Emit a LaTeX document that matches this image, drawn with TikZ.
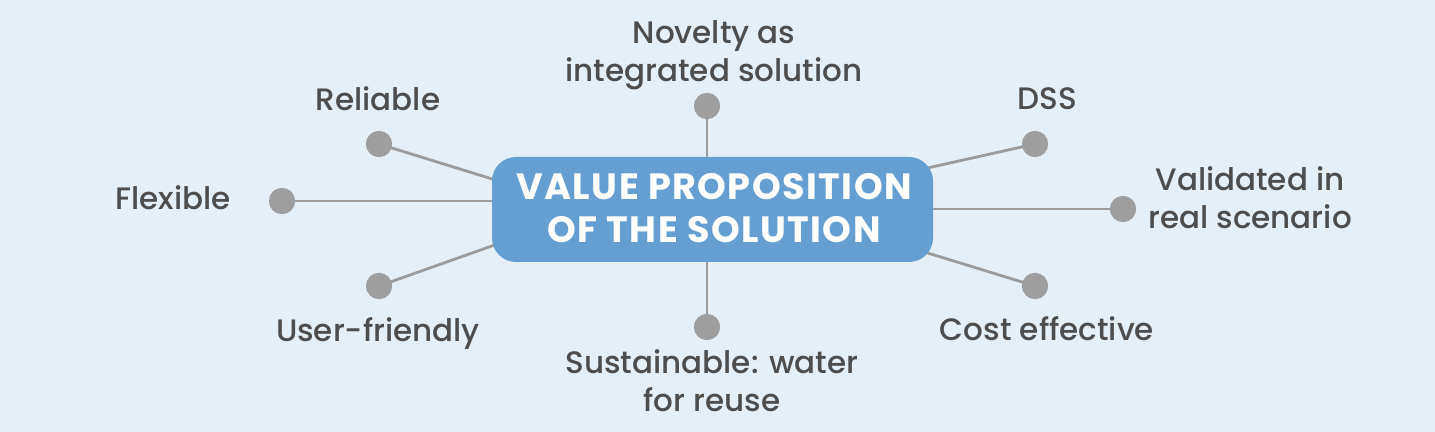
\documentclass[tikz,border=0pt]{standalone}
\usepackage{fontspec}
\setmainfont{Poppins}
\newfontfamily\medfont{Poppins Medium}
\newfontfamily\titlefont[LetterSpace=4]{Poppins Bold}
\definecolor{bgc}{HTML}{E5EFF8}
\definecolor{boxc}{HTML}{659FD2}
\definecolor{txtc}{HTML}{4D4D4D}
\definecolor{dotc}{HTML}{9E9E9E}
\definecolor{linec}{HTML}{9B9B9B}
\begin{document}
\begin{tikzpicture}[x=0.5pt,y=-0.5pt,
  lbl/.style={text=txtc,font=\medfont\fontsize{15.5pt}{19pt}\selectfont,inner sep=0pt,align=center,anchor=base},
  dotn/.style={circle,fill=dotc,inner sep=0pt,minimum size=13pt},
  conn/.style={draw=linec,line width=1.4pt},
  vpbox/.style={fill=boxc,rounded corners=12pt,minimum width=220.5pt,minimum height=52.5pt,inner sep=0pt}]
\fill[bgc] (0,0) rectangle (1435,432);
\useasboundingbox (0,0) rectangle (1435,432);
% dots
\node[dotn] (d1) at (379,144) {};
\node[dotn] (d2) at (282,201) {};
\node[dotn] (d3) at (379,286) {};
\node[dotn] (d4) at (707,106) {};
\node[dotn] (d5) at (1035,144) {};
\node[dotn] (d6) at (1123,209) {};
\node[dotn] (d7) at (1035,286) {};
\node[dotn] (d8) at (707,327) {};
% hidden end points under the box
\coordinate (e1) at (520,187.6);
\coordinate (e2) at (520,201);
\coordinate (e3) at (520,236);
\coordinate (e4) at (707,180);
\coordinate (e5) at (905,173);
\coordinate (e6) at (905,209);
\coordinate (e7) at (905,246);
\coordinate (e8) at (707,240);
\draw[conn] (d1.center) -- (e1);
\draw[conn] (d2.center) -- (e2);
\draw[conn] (d3.center) -- (e3);
\draw[conn] (d4.center) -- (e4);
\draw[conn] (d5.center) -- (e5);
\draw[conn] (d6.center) -- (e6);
\draw[conn] (d7.center) -- (e7);
\draw[conn] (d8.center) -- (e8);
% redraw dots on top
\foreach \n in {d1,d2,d3,d4,d5,d6,d7,d8} {\fill[dotc] (\n) circle (6.5pt);}
% central box
\node[vpbox] (vp) at (712.5,209.5) {};
\node[text=white,font=\titlefont\fontsize{18.3pt}{21.5pt}\selectfont,inner sep=0pt,align=center,anchor=base] (title) at (714,243) {VALUE PROPOSITION\\OF THE SOLUTION};
% labels
\node[lbl] (l1) at (378,111) {Reliable};
\node[lbl] (l2) at (173,210) {Flexible};
\node[lbl] (l3) at (378,342) {User-friendly};
\node[lbl] (l4) at (714,82) {Novelty as\\integrated solution};
\node[lbl] (l5) at (1047,110) {DSS};
\node[lbl] (l6) at (1250,229) {Validated in\\real scenario};
\node[lbl] (l7) at (1047,341) {Cost effective};
\node[lbl] (l8) at (712,412) {Sustainable: water\\for reuse};
\end{tikzpicture}
\end{document}
